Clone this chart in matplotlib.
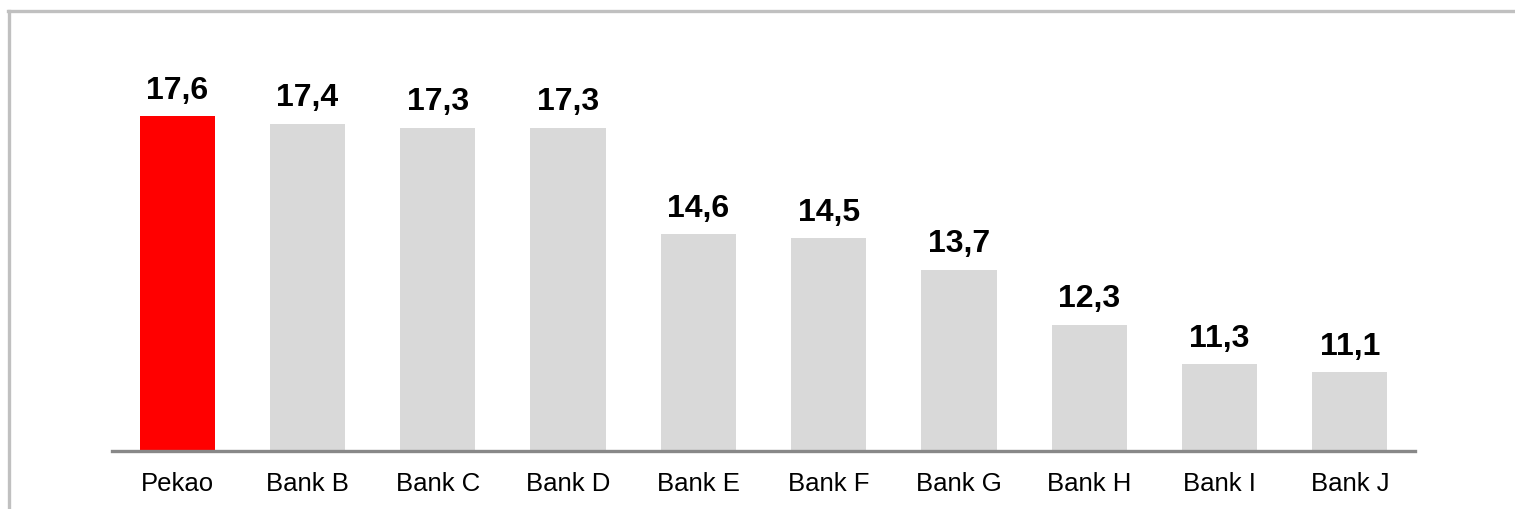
import matplotlib.pyplot as plt
from matplotlib.lines import Line2D

plt.rcParams['font.family'] = ['Liberation Sans', 'DejaVu Sans']

banks = ["Pekao", "Bank B", "Bank C", "Bank D", "Bank E",
         "Bank F", "Bank G", "Bank H", "Bank I", "Bank J"]
values = [17.6, 17.4, 17.3, 17.3, 14.6, 14.5, 13.7, 12.3, 11.3, 11.1]
colors = ["#ff0000"] + ["#d9d9d9"] * 9

W, H = 1515, 509
fig = plt.figure(figsize=(W / 100, H / 100), dpi=100)

# axes box in pixels: baseline at y=451, x from 112 to 1415
left, right, base, top = 112, 1415, 451, 30
ax = fig.add_axes([left / W, (H - base) / H, (right - left) / W, (base - top) / H])

px_per_unit = 39.38
ymin = 9.094
ax.set_ylim(ymin, ymin + (base - top) / px_per_unit)
ax.set_xlim(-0.5, len(banks) - 0.5)

x = range(len(banks))
ax.bar(x, values, width=0.577, color=colors, bottom=0, zorder=2)

for i, v in enumerate(values):
    ax.annotate(f"{v:.1f}".replace(".", ","), (i, v), xytext=(0, 7.5),
                textcoords="offset points", ha="center", va="bottom",
                fontsize=23, fontweight="bold", color="black")

ax.set_xticks(list(x))
ax.set_xticklabels(banks, fontsize=18.5)
ax.tick_params(axis="x", length=0, pad=15)
ax.set_yticks([])
for s in ["top", "left", "right"]:
    ax.spines[s].set_visible(False)
ax.spines["bottom"].set_color("#888888")
ax.spines["bottom"].set_linewidth(2.4)
ax.spines["bottom"].set_zorder(3)

# outer grey frame (top and left edges)
fig.add_artist(Line2D([8 / W, 1.0], [1 - 10.5 / H, 1 - 10.5 / H],
                      color="#c0c0c0", linewidth=2.4, transform=fig.transFigure))
fig.add_artist(Line2D([9 / W, 9 / W], [0, 1 - 10.5 / H],
                      color="#c0c0c0", linewidth=2.4, transform=fig.transFigure))

fig.savefig("out.png", dpi=100, facecolor="white")
